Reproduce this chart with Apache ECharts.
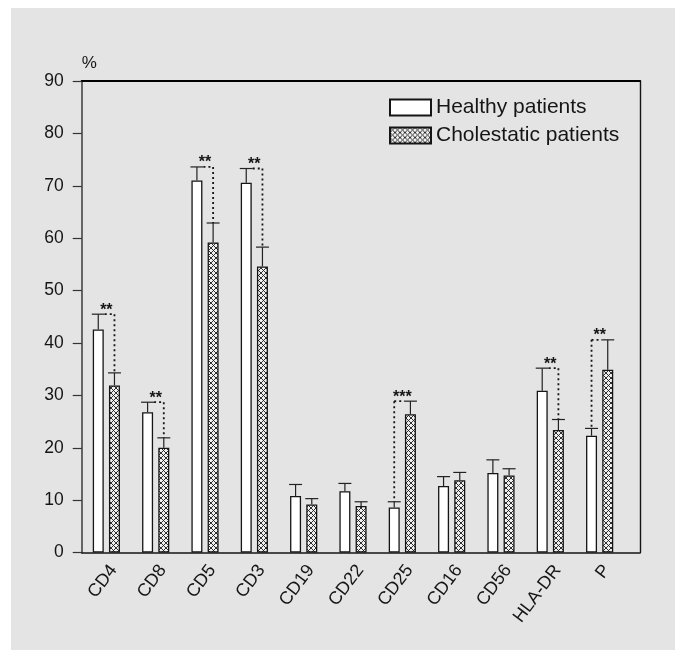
<!DOCTYPE html>
<html>
<head>
<meta charset="utf-8">
<script src="https://cdn.jsdelivr.net/npm/echarts@6/dist/echarts.min.js"></script>
<style>
  html, body { margin: 0; padding: 0; background: #ffffff; width: 675px; height: 650px; overflow: hidden; }
  #chart { position: absolute; left: 11px; top: 8px; width: 664px; height: 642px; background: #e4e4e4; }
</style>
</head>
<body>
<div id="chart"></div>
<script>
// ---- data ----
const categories = ['CD4', 'CD8', 'CD5', 'CD3', 'CD19', 'CD22', 'CD25', 'CD16', 'CD56', 'HLA-DR', 'P'];
const healthy      = [42.6, 26.8, 71.0, 70.6, 10.8, 11.7, 8.6, 12.7, 15.2, 30.9, 22.3];
const healthyUpper = [45.5, 28.7, 73.6, 73.3, 13.0, 13.2, 9.7, 14.5, 17.7, 35.2, 23.7];
const cholestatic      = [31.9, 20.0, 59.2, 54.6, 9.2, 8.9, 26.4, 13.8, 14.7, 23.4, 34.9];
const cholestaticUpper = [34.3, 21.9, 62.9, 58.3, 10.3, 9.7, 28.9, 15.3, 16.0, 25.4, 40.6];
const sigCategories = ['CD4', 'CD8', 'CD5', 'CD3', 'CD25', 'HLA-DR', 'P'];
const sigStars      = ['**', '**', '**', '**', '***', '**', '**'];
const yTicks = [0, 10, 20, 30, 40, 50, 60, 70, 80, 90];

// ---- style constants ----
const FONT = '"Liberation Sans", Arial, Helvetica, sans-serif';
const BAR_W = 11;
const GAP_PX = 5.2;
const OFFSET = (BAR_W + GAP_PX) / 2;
const CAP_HALF = 6.5;
const INK = '#151515';

// crosshatch pattern
const pc = document.createElement('canvas');
pc.width = 5; pc.height = 5;
const cx = pc.getContext('2d');
cx.fillStyle = '#f0f0f0';
cx.fillRect(0, 0, 5, 5);
cx.strokeStyle = '#1a1a1a';
cx.lineWidth = 0.9;
for (const d of [-5, 0, 5]) {
  cx.beginPath(); cx.moveTo(d, 0); cx.lineTo(d + 5, 5); cx.stroke();
  cx.beginPath(); cx.moveTo(d + 5, 0); cx.lineTo(d, 5); cx.stroke();
}
const hatch = { image: pc, repeat: 'repeat' };

const errData = [];
categories.forEach((c, i) => {
  errData.push([i, healthy[i], healthyUpper[i], -1]);
  errData.push([i, cholestatic[i], cholestaticUpper[i], 1]);
});
const sigData = sigCategories.map(c => {
  const i = categories.indexOf(c);
  return [i, healthyUpper[i], cholestaticUpper[i]];
});

const chart = echarts.init(document.getElementById('chart'));
chart.setOption({
  animation: false,
  backgroundColor: '#e4e4e4',
  textStyle: { fontFamily: FONT },
  legend: {
    data: ['Healthy patients', 'Cholestatic patients'],
    orient: 'vertical',
    left: 378, top: 89, padding: 0,
    itemWidth: 41, itemHeight: 16, itemGap: 7,
    icon: 'rect',
    selectedMode: false,
    textStyle: { fontSize: 21, color: INK, fontFamily: FONT }
  },
  grid: [
    { left: 70.7, top: 73, width: 542.6, height: 471.6, containLabel: false },
    { left: 70.7, top: 73, width: 558.3, height: 471.6, containLabel: false }
  ],
  xAxis: [
    {
      type: 'category', gridIndex: 0, data: categories,
      axisLine: { show: false }, axisTick: { show: false },
      axisLabel: { rotate: 53, fontSize: 18, color: INK, margin: 9, interval: 0, fontFamily: FONT, verticalAlign: 'top' }
    },
    {
      type: 'value', gridIndex: 1, position: 'bottom', min: 0, max: 1,
      axisLine: { show: true, onZero: false, lineStyle: { color: INK, width: 1.5 } },
      axisTick: { show: false }, axisLabel: { show: false }, splitLine: { show: false }
    },
    {
      type: 'value', gridIndex: 1, position: 'top', min: 0, max: 1,
      axisLine: { show: true, onZero: false, lineStyle: { color: '#000', width: 2 } },
      axisTick: { show: false }, axisLabel: { show: false }, splitLine: { show: false }
    }
  ],
  yAxis: [
    {
      type: 'value', gridIndex: 0, min: 0, max: 90, interval: 10,
      name: '%', nameLocation: 'end', nameGap: 9,
      nameTextStyle: { fontSize: 17, color: INK, align: 'left', fontFamily: FONT },
      axisLine: { show: true, onZero: false, lineStyle: { color: '#444', width: 1.6 } },
      axisTick: { show: true, inside: false, length: 9, lineStyle: { color: '#333', width: 1.2 } },
      axisLabel: { fontSize: 17.5, color: INK, margin: 18, fontFamily: FONT,
        formatter: v => (yTicks.indexOf(v) >= 0 ? String(v) : '') },
      splitLine: { show: false }
    },
    {
      type: 'value', gridIndex: 1, position: 'right', min: 0, max: 1,
      axisLine: { show: true, onZero: false, lineStyle: { color: INK, width: 1.4 } },
      axisTick: { show: false }, axisLabel: { show: false }, splitLine: { show: false }
    }
  ],
  series: [
    {
      name: 'Healthy patients', type: 'bar', xAxisIndex: 0, yAxisIndex: 0,
      data: healthy, barWidth: BAR_W, barGap: (GAP_PX / BAR_W * 100).toFixed(1) + '%',
      itemStyle: { color: '#ffffff', borderColor: INK, borderWidth: 1.3 }
    },
    {
      name: 'Cholestatic patients', type: 'bar', xAxisIndex: 0, yAxisIndex: 0,
      data: cholestatic, barWidth: BAR_W,
      itemStyle: { color: hatch, borderColor: INK, borderWidth: 1.3 }
    },
    {
      type: 'custom', xAxisIndex: 0, yAxisIndex: 0, data: errData, z: 5,
      renderItem: function (params, api) {
        const i = api.value(0);
        const side = api.value(3);
        const p0 = api.coord([i, api.value(1)]);
        const p1 = api.coord([i, api.value(2)]);
        const x = p0[0] + side * OFFSET;
        const st = { stroke: '#222', lineWidth: 1.2 };
        return {
          type: 'group',
          children: [
            { type: 'line', shape: { x1: x, y1: p0[1], x2: x, y2: p1[1] }, style: st },
            { type: 'line', shape: { x1: x - CAP_HALF, y1: p1[1], x2: x + CAP_HALF, y2: p1[1] }, style: st }
          ]
        };
      }
    },
    {
      type: 'custom', xAxisIndex: 0, yAxisIndex: 0, data: sigData, z: 6,
      renderItem: function (params, api) {
        const i = api.value(0);
        const hU = api.value(1), cU = api.value(2);
        const top = Math.max(hU, cU);
        const pc0 = api.coord([i, top]);
        const yTop = pc0[1];
        const xc = pc0[0];
        const xh = xc - OFFSET, xch = xc + OFFSET;
        const dot = { stroke: INK, lineWidth: 1.8, lineDash: [2, 3] };
        const children = [];
        if (hU >= cU) {
          const yLow = api.coord([i, cU])[1];
          children.push({ type: 'line', shape: { x1: xh + CAP_HALF, y1: yTop, x2: xch, y2: yTop }, style: dot });
          children.push({ type: 'line', shape: { x1: xch, y1: yTop, x2: xch, y2: yLow }, style: dot });
        } else {
          const yLow = api.coord([i, hU])[1];
          children.push({ type: 'line', shape: { x1: xh, y1: yTop, x2: xch - CAP_HALF, y2: yTop }, style: dot });
          children.push({ type: 'line', shape: { x1: xh, y1: yTop, x2: xh, y2: yLow }, style: dot });
        }
        children.push({
          type: 'text',
          style: { text: sigStars[params.dataIndex], x: xc, y: yTop + 4, align: 'center', verticalAlign: 'bottom',
                   fontSize: 16, fontWeight: 'bold', fill: INK, fontFamily: FONT }
        });
        return { type: 'group', children: children };
      }
    }
  ]
});
</script>
</body>
</html>
